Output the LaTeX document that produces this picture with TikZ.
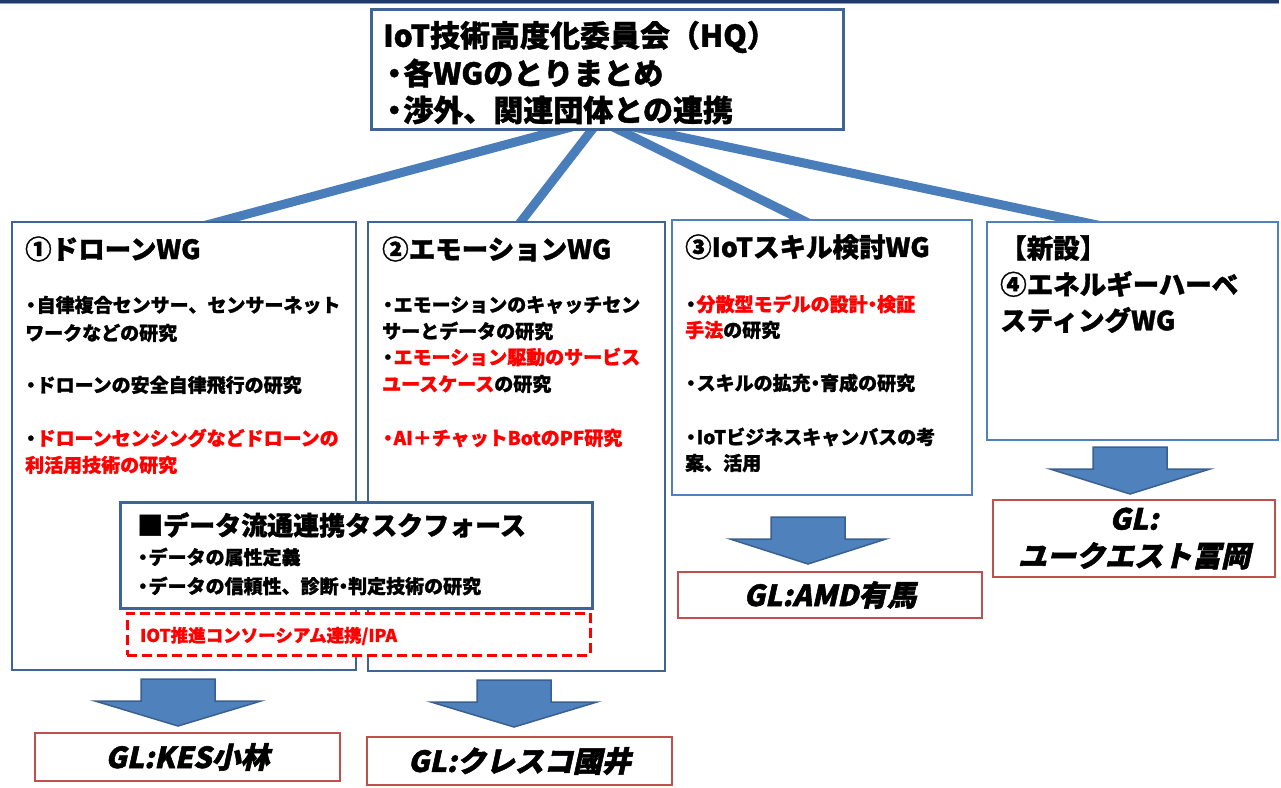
\documentclass[tikz,border=0pt]{standalone}
\usepackage{fontspec}
\setmainfont{Noto Sans CJK JP}[BoldFeatures={FakeBold=1.3}]
\newfontfamily\glfont{Noto Sans CJK JP}[FakeSlant=0.22, BoldFeatures={FakeBold=1.8}]
\definecolor{barNavy}{HTML}{1F3A68}
\definecolor{barGreen}{HTML}{8DB36A}
\definecolor{darkB}{HTML}{3F6496}
\definecolor{lightB}{HTML}{4F81BD}
\definecolor{connC}{HTML}{4A7EBB}
\definecolor{arrowF}{HTML}{4F81BD}
\definecolor{arrowD}{HTML}{3A6090}
\definecolor{glC}{HTML}{C0504D}
\definecolor{redT}{HTML}{FF0000}
\pgfdeclarelayer{background}
\pgfsetlayers{background,main}
\newcommand{\rt}[1]{\textcolor{redT}{#1}}
\newcommand{\bl}{\kern-0.2em・\kern-0.2em}
\newcommand{\hbl}{\kern-0.13em・\kern-0.2em}
\newcommand{\mdot}{\kern-0.25em・\kern-0.25em}
\begin{document}
\begin{tikzpicture}[x=1pt,y=-1pt,
  box/.style={draw, fill=white, inner sep=0pt, line width=2.5pt},
  hq/.style={anchor=west, inner sep=0pt, font=\bfseries\fontsize{30}{36}\selectfont},
  ttl/.style={anchor=west, inner sep=0pt, font=\bfseries\fontsize{26.5}{32}\selectfont},
  txt/.style={anchor=west, inner sep=0pt, font=\bfseries\fontsize{19}{23}\selectfont},
  ipa/.style={anchor=west, inner sep=0pt, text=redT, font=\bfseries\fontsize{17.5}{21}\selectfont},
  conn/.style={line width=9pt, draw=connC},
  barrow/.style={fill=arrowF, draw=arrowD, line width=1.5pt, line join=miter},
  glbox/.style={draw=glC, fill=white, line width=2.5pt, inner sep=0pt, align=center,
    font=\glfont\bfseries\fontsize{29}{37}\selectfont}
]
\useasboundingbox (0,0) rectangle (1281,787);
\begin{pgfonlayer}{background}
\fill[white] (0,0) rectangle (1281,787);
\end{pgfonlayer}
% top bar
\fill[barNavy] (0,0) rectangle (1279,2.6);
\fill[barGreen] (0,2.6) rectangle (1279,3.6);

% boxes
\node[box, draw=darkB, line width=3pt, minimum width=472pt, minimum height=120pt] (hq) at (607,69) {};
\node[box, draw=darkB, minimum width=344pt, minimum height=448pt] (wg1) at (184,446) {};
\node[box, draw=darkB, minimum width=297pt, minimum height=449pt] (wg2) at (516.5,446.5) {};
\node[box, draw=lightB, minimum width=300pt, minimum height=275pt] (wg3) at (822,357.5) {};
\node[box, draw=lightB, minimum width=291pt, minimum height=218pt] (wg4) at (1132.5,331) {};

% connectors (behind boxes)
\coordinate (hub) at (600,122);
\begin{pgfonlayer}{background}
\draw[conn] ([xshift=-10pt]hub) -- ([xshift=16pt,yshift=-6pt]wg1.north);
\draw[conn] ([xshift=-2pt]hub) -- ([xshift=0.5pt,yshift=-6pt]wg2.north);
\draw[conn] ([xshift=3pt]hub) -- ([xshift=-10pt,yshift=-6pt]wg3.north);
\draw[conn] ([xshift=10pt]hub) -- ([xshift=-27pt,yshift=-6pt]wg4.north);
\end{pgfonlayer}

% HQ text
\node[hq] (hq1) at (383,37) {IoT技術高度化委員会（HQ）};
\node[hq] (hq2) at (383,73) {\hbl 各WGのとりまとめ};
\node[hq] (hq3) at (383,110) {\hbl 渉外、関連団体との連携};

% WG1
\node[ttl] (w1t) at (25,249) {①ドローンWG};
\node[txt] (w1a) at (25,305) {\bl 自律複合センサー、センサーネット};
\node[txt] (w1b) at (25,333) {ワークなどの研究};
\node[txt] (w1c) at (25,385) {\bl ドローンの安全自律飛行の研究};
\node[txt] (w1d) at (25,438) {\bl\rt{ドローンセンシングなどドローンの}};
\node[txt] (w1e) at (25,465) {\rt{利活用技術の研究}};

% WG2
\node[ttl] (w2t) at (382,249) {②エモーションWG};
\node[txt] (w2a) at (382,305) {\bl エモーションのキャッチセン};
\node[txt] (w2b) at (382,331) {サーとデータの研究};
\node[txt] (w2c) at (382,357) {\bl\rt{エモーション駆動のサービス}};
\node[txt] (w2d) at (382,384) {\rt{ユースケース}の研究};
\node[txt] (w2e) at (382,438) {\rt{\bl AI＋チャットBotのPF研究}};

% WG3
\node[ttl] (w3t) at (685,247) {③IoTスキル検討WG};
\node[txt] (w3a) at (685,304) {\bl\rt{分散型モデルの設計\mdot 検証}};
\node[txt] (w3b) at (685,330) {\rt{手法}の研究};
\node[txt] (w3c) at (685,383) {\bl スキルの拡充\mdot 育成の研究};
\node[txt] (w3d) at (685,437) {\bl IoTビジネスキャンバスの考};
\node[txt] (w3e) at (685,463) {案、活用};

% WG4
\node[ttl] (w4a) at (1000,248) {【新設】};
\node[ttl] (w4b) at (1000,284) {④エネルギーハーベ};
\node[ttl] (w4c) at (1000,320) {スティングWG};

% task force
\node[box, draw=darkB, line width=3pt, minimum width=472pt, minimum height=106pt] (tf) at (356,555) {};
\node[ttl, font=\bfseries\fontsize{26}{30}\selectfont] (tft) at (137,525) {■データ流通連携タスクフォース};
\node[txt] (tfa) at (137,557) {\bl データの属性定義};
\node[txt] (tfb) at (137,586) {\bl データの信頼性、診断\mdot 判定技術の研究};
\node[box, draw=redT, line width=3pt, dash pattern=on 10pt off 5pt, minimum width=463pt, minimum height=42pt] (ipab) at (358.5,634) {};
\node[ipa] (ipat) at (140,636) {IOT推進コンソーシアム連携/IPA};

% block arrows
\filldraw[barrow] (141,679) -- (215,679) -- (215,701) -- (261,701) -- (178,726) -- (95,701) -- (141,701) -- cycle;
\filldraw[barrow] (477,680) -- (551,680) -- (551,702) -- (597,702) -- (514,727) -- (431,702) -- (477,702) -- cycle;
\filldraw[barrow] (771,517) -- (845,517) -- (845,539) -- (886,539) -- (808,564) -- (730,539) -- (771,539) -- cycle;
\filldraw[barrow] (1093,447) -- (1167,447) -- (1167,469) -- (1210,469) -- (1130,494) -- (1050,469) -- (1093,469) -- cycle;

% GL boxes
\node[glbox, minimum width=305pt, minimum height=48pt] (gl1) at (187.5,757) {GL:KES小林};
\node[glbox, minimum width=305pt, minimum height=48pt] (gl2) at (519.5,761) {GL:クレスコ國井};
\node[glbox, minimum width=304pt, minimum height=46pt] (gl3) at (830,595) {GL:AMD有馬};
\node[glbox, minimum width=282pt, minimum height=77pt] (gl4) at (1134,538.5) {GL:\\ユークエスト冨岡};
\end{tikzpicture}
\end{document}
